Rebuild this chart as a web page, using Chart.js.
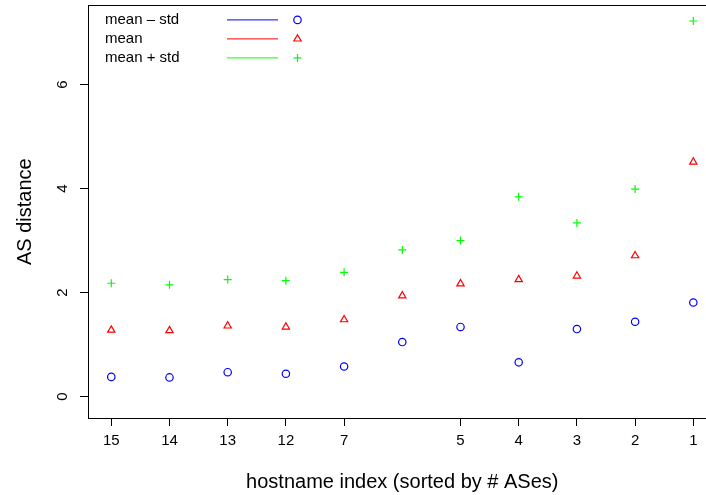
<!DOCTYPE html>
<html>
<head>
<meta charset="utf-8">
<script src="https://cdn.jsdelivr.net/npm/chart.js@4/dist/chart.umd.min.js"></script>
<style>
html, body { margin: 0; padding: 0; background: #fff; overflow: hidden; width: 706px; height: 495px; }
canvas { display: block; }
</style>
</head>
<body>
<canvas id="myChart" width="722" height="495"></canvas>
<script>
// x positions and their tick labels (the 6th host has no label)
var xPos = [1, 2, 3, 4, 5, 6, 7, 8, 9, 10, 11];
var hostLabels = ["15", "14", "13", "12", "7", "", "5", "4", "3", "2", "1"];
// y axis ticks
var yTicks = [0, 2, 4, 6];
// series
var meanMinusStd = [0.38, 0.37, 0.47, 0.44, 0.58, 1.05, 1.34, 0.66, 1.30, 1.44, 1.81];
var meanVals = [1.28, 1.27, 1.36, 1.34, 1.48, 1.94, 2.17, 2.25, 2.32, 2.71, 4.51];
var meanPlusStd = [2.18, 2.15, 2.25, 2.23, 2.39, 2.82, 3.00, 3.84, 3.34, 3.99, 7.22];

var FONT = "'Liberation Sans', Arial, Helvetica, sans-serif";
Chart.defaults.color = "#000";
Chart.defaults.font.family = FONT;

function pts(vals) {
  return vals.map(function (v, i) { return { x: xPos[i], y: v }; });
}

function drawMarker(ctx, style, r, x, y) {
  ctx.beginPath();
  if (style === 'circle') {
    ctx.arc(x, y, r, 0, Math.PI * 2);
  } else if (style === 'triangle') {
    var a = 0;
    for (var k = 0; k < 3; k++) {
      var px = x + Math.sin(a) * r, py = y - Math.cos(a) * r;
      if (k === 0) ctx.moveTo(px, py); else ctx.lineTo(px, py);
      a += 2 * Math.PI / 3;
    }
    ctx.closePath();
  } else {
    ctx.moveTo(x - r, y); ctx.lineTo(x + r, y);
    ctx.moveTo(x, y - r); ctx.lineTo(x, y + r);
  }
  ctx.stroke();
}

// frame around the plot + R-style legend in the top-left corner
var rBox = {
  id: 'rBox',
  afterDraw: function (chart) {
    var ctx = chart.ctx, a = chart.chartArea;
    ctx.save();
    ctx.strokeStyle = "#000";
    ctx.lineWidth = 1;
    var l = Math.round(a.left) + 0.5, t = Math.round(a.top) + 0.5;
    var r = Math.round(a.right) + 0.5, b = Math.round(a.bottom) + 0.5;
    ctx.strokeRect(l, t, r - l, b - t);

    ctx.font = "15px " + FONT;
    ctx.textBaseline = "middle";
    ctx.fillStyle = "#000";
    chart.data.datasets.forEach(function (ds, i) {
      var y = a.top + 14.5 + i * 19;
      ctx.fillText(ds.label, a.left + 17, y);
      ctx.strokeStyle = ds.borderColor;
      ctx.lineWidth = 1;
      ctx.beginPath();
      ctx.moveTo(a.left + 139, y);
      ctx.lineTo(a.left + 190, y);
      ctx.stroke();
      ctx.lineWidth = ds.borderWidth;
      drawMarker(ctx, ds.pointStyle, ds.pointRadius, a.left + 209.5, y);
    });
    ctx.restore();
  }
};

new Chart(document.getElementById("myChart"), {
  type: 'scatter',
  data: {
    datasets: [
      {
        label: "mean \u2013 std",
        data: pts(meanMinusStd),
        borderColor: "#0000ff",
        backgroundColor: "rgba(0,0,0,0)",
        pointStyle: 'circle',
        pointRadius: 3.7,
        pointHoverRadius: 3.7,
        borderWidth: 1.2
      },
      {
        label: "mean",
        data: pts(meanVals),
        borderColor: "#ff0000",
        backgroundColor: "rgba(0,0,0,0)",
        pointStyle: 'triangle',
        pointRadius: 4.2,
        pointHoverRadius: 4.2,
        borderWidth: 1.2
      },
      {
        label: "mean + std",
        data: pts(meanPlusStd),
        borderColor: "#00ff00",
        backgroundColor: "rgba(0,0,0,0)",
        pointStyle: 'cross',
        pointRadius: 4,
        pointHoverRadius: 4,
        borderWidth: 1.2
      }
    ]
  },
  options: {
    responsive: false,
    animation: false,
    devicePixelRatio: 1,
    layout: { padding: { left: 0, top: 5, right: 5, bottom: 0 } },
    plugins: { legend: { display: false }, tooltip: { enabled: false } },
    scales: {
      x: {
        type: 'linear',
        min: 0.6,
        max: 11.4,
        afterBuildTicks: function (s) {
          s.ticks = xPos.filter(function (p, i) { return hostLabels[i] !== ""; })
                        .map(function (p) { return { value: p }; });
        },
        afterFit: function (s) {
          s.height = 77;
          s.paddingLeft = 0; s.paddingRight = 0;
        },
        grid: { drawOnChartArea: false, drawTicks: true, tickLength: 8, color: "#000", lineWidth: 1 },
        border: { display: true, color: "#000" },
        ticks: {
          autoSkip: false, maxRotation: 0, padding: 6,
          font: { size: 15 },
          callback: function (v) { return hostLabels[xPos.indexOf(v)]; }
        },
        title: { display: true, text: "hostname index (sorted by # ASes)", font: { size: 20 }, padding: { top: 0, bottom: 1 } }
      },
      y: {
        type: 'linear',
        min: -0.41,
        max: 7.52,
        afterBuildTicks: function (s) {
          s.ticks = yTicks.map(function (v) { return { value: v }; });
        },
        afterFit: function (s) {
          s.width = 88;
          s.paddingTop = 0; s.paddingBottom = 0;
        },
        grid: { drawOnChartArea: false, drawTicks: true, tickLength: 8, color: "#000", lineWidth: 1 },
        border: { display: true, color: "#000" },
        ticks: {
          autoSkip: false, minRotation: 90, maxRotation: 90, crossAlign: 'center', padding: 13,
          font: { size: 15 }
        },
        title: { display: true, text: "AS distance", font: { size: 20 }, padding: { top: 13, bottom: 0 } }
      }
    }
  },
  plugins: [rBox]
});
</script>
</body>
</html>
